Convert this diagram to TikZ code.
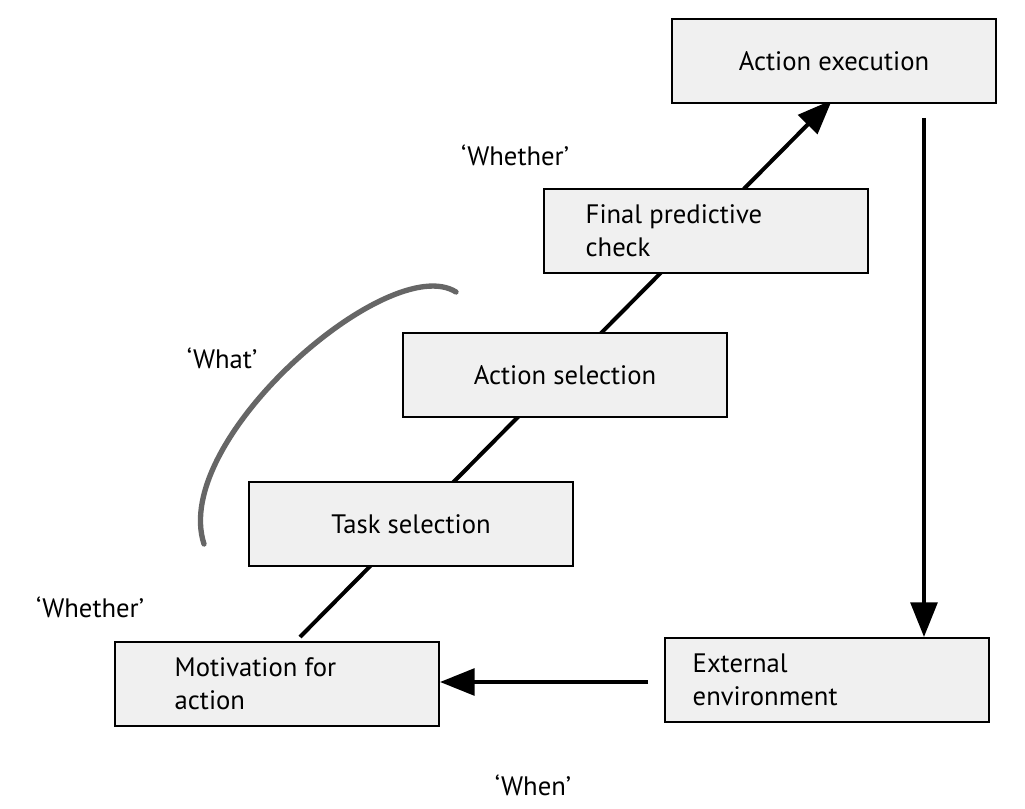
\documentclass[tikz,border=0pt]{standalone}
\usepackage{fontspec}
\setmainfont{PT Sans}
\usetikzlibrary{arrows.meta}
\begin{document}
\begin{tikzpicture}[x=0.75pt,y=-0.75pt,
  box/.style={draw=black,line width=1.5pt,fill=black!6,minimum width=243pt,minimum height=63pt,inner sep=0pt,font=\fontsize{20}{25}\selectfont},
  lbl/.style={font=\fontsize{20}{25}\selectfont},
  arr/.style={line width=3pt,-{Triangle[length=26pt,width=20pt]}}]
\useasboundingbox (0,0) rectangle (1025,809);
\coordinate (s) at (300,637);
\coordinate (e) at (832,100);
\draw[arr] (s) -- (e);
\node[box] (ae) at (834,61) {Action execution};
\node[box] (fp) at (706,231) {};
\node[lbl,align=left,anchor=west] at (581,231) {Final predictive\\check};
\node[box] (as) at (565,375) {Action selection};
\node[box] (ts) at (411,524) {Task selection};
\node[box] (ma) at (277,684) {};
\node[lbl,align=left,anchor=west] at (170,684) {Motivation for\\action};
\node[box] (ee) at (827,680) {};
\node[lbl,align=left,anchor=west] at (688,680) {External\\environment};
\coordinate (v1) at (924,118);
\draw[arr] (v1) -- (ee.north -| v1);
\coordinate (h1) at (648,682);
\draw[arr] (h1) -- (ma.east |- h1);
\draw[line width=4pt,black!60,line cap=round] (456,292) .. controls (390,250) and (170,440) .. (204,544);
\node[lbl] at (515,155) {‘Whether’};
\node[lbl] at (222,358) {‘What’};
\node[lbl] at (90,607) {‘Whether’};
\node[lbl] at (533,785) {‘When’};
\end{tikzpicture}
\end{document}
